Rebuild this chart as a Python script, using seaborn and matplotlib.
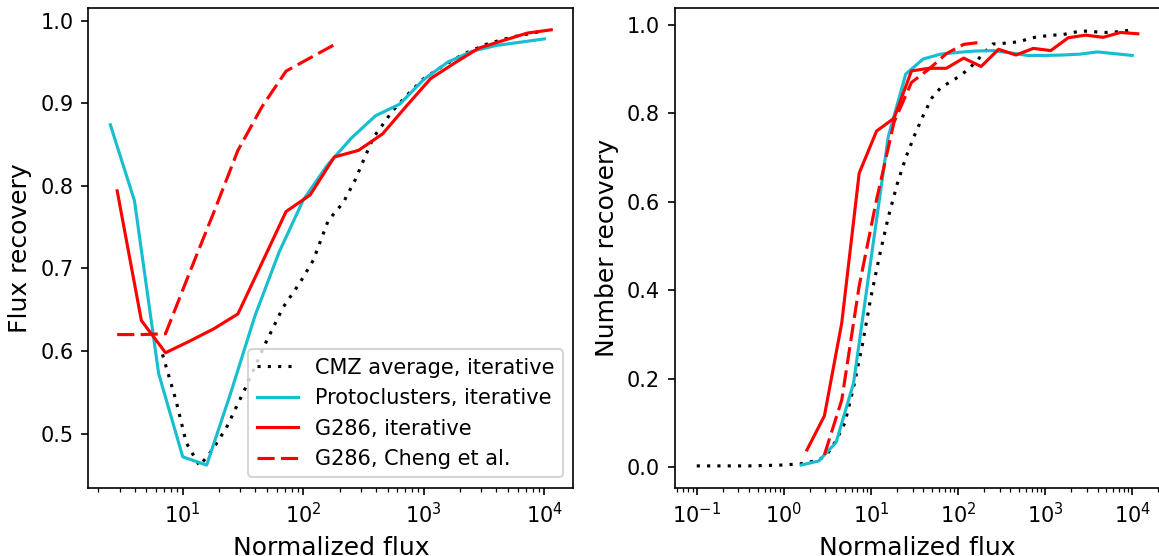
import matplotlib
matplotlib.use("Agg")
import matplotlib.pyplot as plt
import seaborn as sns

# ---------------- data: left panel (flux recovery) ----------------
cmz_flux_x = [6.8, 8.8, 10.7, 13.8, 17.5, 23.0, 33.8, 48.0, 68.0, 94.0, 121, 161, 215, 269,
              316, 383, 450, 545, 704, 1000, 1468, 2154, 3371, 5277, 9390]
cmz_flux_y = [0.596, 0.540, 0.489, 0.461, 0.480, 0.507, 0.558, 0.608, 0.653, 0.683, 0.710,
              0.758, 0.780, 0.807, 0.831, 0.859, 0.873, 0.890, 0.908, 0.930, 0.946, 0.960,
              0.972, 0.980, 0.987]

proto_flux_x = [2.51, 3.98, 6.31, 10.0, 15.8, 25.1, 39.8, 63.1, 100, 158, 251, 398, 631,
                1000, 1585, 2512, 3981, 6310, 10000]
proto_flux_y = [0.874, 0.782, 0.573, 0.472, 0.462, 0.550, 0.643, 0.720, 0.783, 0.825, 0.858,
                0.885, 0.899, 0.929, 0.950, 0.963, 0.970, 0.974, 0.978]

g286_flux_x = [2.86, 4.54, 7.2, 11.4, 18.1, 28.7, 45.5, 72, 114, 181, 287, 455, 720, 1140,
               1810, 2870, 4550, 7200, 11400]
g286_flux_y = [0.794, 0.637, 0.598, 0.612, 0.627, 0.645, 0.707, 0.769, 0.789, 0.835, 0.843,
               0.863, 0.897, 0.930, 0.949, 0.967, 0.976, 0.985, 0.989]

cheng_flux_x = [2.86, 4.54, 7.2, 11.4, 18.1, 28.7, 45.5, 72, 114, 181]
cheng_flux_y = [0.620, 0.620, 0.621, 0.695, 0.768, 0.843, 0.896, 0.939, 0.955, 0.971]

# ---------------- data: right panel (number recovery) ----------------
cmz_num_x = [0.1, 0.158, 0.251, 0.398, 0.631, 1.0, 1.58, 2.0, 2.51, 3.16, 3.98, 5.01, 6.31,
             7.94, 10.0, 12.6, 15.8, 20.0, 25.1, 31.6, 39.8, 50.1, 63.1, 79.4, 100, 126, 158,
             200, 251, 316, 398, 501, 631, 794, 1000, 1259, 1585, 1995, 2512, 3162, 3981,
             5012, 6310, 7943, 10000]
cmz_num_y = [0.003, 0.003, 0.003, 0.003, 0.004, 0.005, 0.008, 0.012, 0.016, 0.030, 0.060,
             0.10, 0.18, 0.275, 0.385, 0.48, 0.565, 0.64, 0.700, 0.750, 0.795, 0.835, 0.858,
             0.870, 0.882, 0.897, 0.915, 0.938, 0.957, 0.958, 0.960, 0.962, 0.968, 0.973,
             0.975, 0.977, 0.978, 0.982, 0.986, 0.986, 0.984, 0.983, 0.984, 0.986, 0.989]

proto_num_x = [1.58, 2.51, 3.98, 6.31, 10.0, 15.8, 25.1, 39.8, 63.1, 100, 158, 251, 398, 631,
               1000, 1585, 2512, 3981, 6310, 10000]
proto_num_y = [0.005, 0.014, 0.056, 0.19, 0.47, 0.747, 0.889, 0.923, 0.934, 0.938, 0.941,
               0.942, 0.937, 0.931, 0.931, 0.932, 0.934, 0.939, 0.935, 0.931]

g286_num_x = [1.84, 2.92, 4.62, 7.33, 11.6, 18.4, 29.2, 46.2, 73.3, 116, 184, 292, 462, 733,
              1160, 1840, 2920, 4620, 7330, 11600]
g286_num_y = [0.039, 0.116, 0.326, 0.665, 0.760, 0.789, 0.896, 0.902, 0.902, 0.925, 0.906,
              0.945, 0.932, 0.947, 0.942, 0.971, 0.977, 0.972, 0.983, 0.980]

cheng_num_x = [2.92, 4.62, 7.33, 11.6, 18.4, 29.2, 46.2, 73.3, 116, 184]
cheng_num_y = [0.028, 0.152, 0.41, 0.605, 0.78, 0.87, 0.90, 0.935, 0.956, 0.961]

labels = ["CMZ average, iterative", "Protoclusters, iterative",
          "G286, iterative", "G286, Cheng et al."]

# ---------------- styling ----------------
plt.rcParams["font.family"] = ["DejaVu Sans"]
plt.rcParams["font.size"] = 10
CYAN = "#17becf"
RED = "#ff0000"
DOT = (0, (1, 2.3))
DASH = (0, (5.5, 2.0))
LW = 1.5

W, H, DPI = 1159, 556, 150
fig = plt.figure(figsize=(W / DPI, H / DPI), dpi=DPI)
ax1 = fig.add_axes([88.3 / W, 1 - 487.7 / H, 485.0 / W, (487.7 - 8) / H])
ax2 = fig.add_axes([674.7 / W, 1 - 487.7 / H, 485.2 / W, (487.7 - 8) / H])

for ax in (ax1, ax2):
    ax.set_xscale("log")


def draw(ax, x, y, color, ls, label=None):
    kw = dict(x=x, y=y, ax=ax, color=color, linestyle=ls, lw=LW,
              sort=False, estimator=None)
    if label is not None:
        kw["label"] = label
    sns.lineplot(**kw)


draw(ax1, cmz_flux_x, cmz_flux_y, "k", DOT, labels[0])
draw(ax1, proto_flux_x, proto_flux_y, CYAN, "-", labels[1])
draw(ax1, g286_flux_x, g286_flux_y, RED, "-", labels[2])
draw(ax1, cheng_flux_x, cheng_flux_y, RED, DASH, labels[3])

draw(ax2, cmz_num_x, cmz_num_y, "k", DOT)
draw(ax2, proto_num_x, proto_num_y, CYAN, "-")
draw(ax2, g286_num_x, g286_num_y, RED, "-")
draw(ax2, cheng_num_x, cheng_num_y, RED, DASH)

ax1.set_xlabel("Normalized flux", fontsize=12)
ax1.set_ylabel("Flux recovery", fontsize=12)
ax2.set_xlabel("Normalized flux", fontsize=12)
ax2.set_ylabel("Number recovery", fontsize=12)

ax1.legend(loc="lower right", fontsize=10)
leg2 = ax2.get_legend()
if leg2 is not None:
    leg2.remove()

fig.savefig("out.png", dpi=DPI)
